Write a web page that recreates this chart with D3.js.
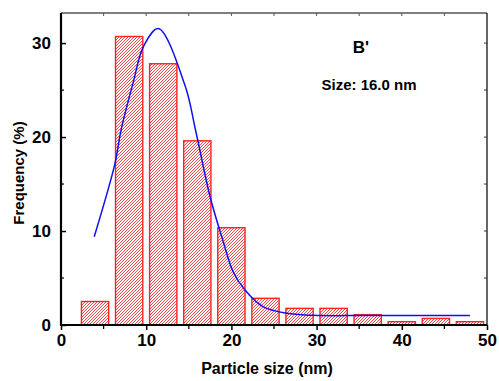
<!DOCTYPE html>
<html>
<head>
<meta charset="utf-8">
<script src="https://cdn.jsdelivr.net/npm/d3@7"></script>
<style>
  html, body { margin: 0; padding: 0; background: #fff; }
  svg { display: block; font-family: "Liberation Sans", Arial, sans-serif; }
</style>
</head>
<body>
<svg id="chart" width="499" height="381"></svg>
<script>
// ---- data ----
const binCenters = [4, 8, 12, 16, 20, 24, 28, 32, 36, 40, 44, 48];
const frequencies = [2.5, 30.7, 27.8, 19.6, 10.35, 2.84, 1.77, 1.77, 1.1, 0.35, 0.7, 0.35];
const fitX = [3.9, 6.34, 7.04, 8.5, 9.66, 11.42, 14.55, 15.8, 17.5, 19.0, 20.2, 21.6, 23.7, 26.5, 29.6, 35, 40, 48];
const fitY = [9.4, 17.2, 20.7, 25.9, 29.6, 31.55, 25.5, 20.7, 13.65, 9.0, 5.67, 3.72, 1.95, 1.24, 1.03, 1.0, 1.0, 1.0];
const xTicks = [0, 10, 20, 30, 40, 50];
const yTicks = [0, 10, 20, 30];
const xLabel = "Particle size (nm)";
const yLabel = "Frequency (%)";
const panelLabel = "B'";
const sizeLabel = "Size: 16.0 nm";
const binWidth = 3.2;

// ---- layout ----
const svg = d3.select("#chart");
const L = 61, R = 487, T = 13, B = 325;
const x = d3.scaleLinear().domain([0, 50]).range([L, R]);
const y = d3.scaleLinear().domain([0, 33.2]).range([B, T]);

// hatch pattern
const defs = svg.append("defs");
const pat = defs.append("pattern")
  .attr("id", "hatch").attr("patternUnits", "userSpaceOnUse")
  .attr("width", 3).attr("height", 3);
pat.append("rect").attr("width", 3).attr("height", 3).attr("fill", "#fff");
pat.append("path").attr("d", "M-1,1 l2,-2 M0,3 l3,-3 M2,4 l2,-2")
  .attr("stroke", "#f03030").attr("stroke-width", 0.9);

// bars
svg.append("g").selectAll("rect").data(binCenters).join("rect")
  .attr("x", (d) => x(d - binWidth / 2))
  .attr("width", (d) => x(d + binWidth / 2) - x(d - binWidth / 2))
  .attr("y", (d, i) => y(frequencies[i]))
  .attr("height", (d, i) => y(0) - y(frequencies[i]))
  .attr("fill", "url(#hatch)")
  .attr("stroke", "#ff2020").attr("stroke-width", 1.4);

// fit curve
const line = d3.line().x((d) => x(d[0])).y((d) => y(d[1])).curve(d3.curveCatmullRom.alpha(0.5));
svg.append("path").datum(fitX.map((v, i) => [v, fitY[i]]))
  .attr("d", line).attr("fill", "none").attr("stroke", "#1010f0").attr("stroke-width", 1.5);

// frame
svg.append("line").attr("x1", L).attr("x2", R).attr("y1", T).attr("y2", T).attr("stroke", "#000").attr("stroke-width", 1.2);
svg.append("line").attr("x1", R).attr("x2", R).attr("y1", T).attr("y2", B).attr("stroke", "#000").attr("stroke-width", 1.2);

// axes
const xAxis = d3.axisBottom(x).tickValues(xTicks).tickSize(5).tickPadding(4);
const gx = svg.append("g").attr("transform", `translate(0,${B})`).call(xAxis);
gx.select(".domain").attr("stroke-width", 2.2).attr("d", `M${L - 1},0H${R}`);
gx.selectAll(".tick line").attr("stroke-width", 1.5);
gx.selectAll("text").attr("font-size", 17).attr("font-weight", "bold").attr("font-family", "Liberation Sans, Arial, sans-serif").attr("fill", "#000");
// minor bottom ticks
svg.append("g").selectAll("line").data([5, 15, 25, 35, 45]).join("line")
  .attr("x1", (d) => x(d)).attr("x2", (d) => x(d)).attr("y1", B).attr("y2", B + 4)
  .attr("stroke", "#000").attr("stroke-width", 1.3);

const yAxis = d3.axisLeft(y).tickValues(yTicks).tickSize(-5).tickPadding(10);
const gy = svg.append("g").attr("transform", `translate(${L},0)`).call(yAxis);
gy.select(".domain").attr("stroke-width", 2.2).attr("d", `M0,${B + 1}V${T}`);
gy.selectAll(".tick line").attr("stroke-width", 1.5);
gy.selectAll("text").attr("font-size", 17).attr("font-weight", "bold").attr("font-family", "Liberation Sans, Arial, sans-serif").attr("fill", "#000");
// minor left ticks
svg.append("g").selectAll("line").data([5, 15, 25]).join("line")
  .attr("x1", L).attr("x2", L + 3).attr("y1", (d) => y(d)).attr("y2", (d) => y(d))
  .attr("stroke", "#000").attr("stroke-width", 1.2);

// top ticks (mirror)
svg.append("g").selectAll("line").data([5, 10, 15, 20, 25, 30, 35, 40, 45]).join("line")
  .attr("x1", (d) => x(d)).attr("x2", (d) => x(d)).attr("y1", T).attr("y2", T + 3)
  .attr("stroke", "#555").attr("stroke-width", 1);
// right ticks (mirror)
svg.append("g").selectAll("line").data([5, 10, 15, 20, 25, 30]).join("line")
  .attr("x1", R).attr("x2", R - 3).attr("y1", (d) => y(d)).attr("y2", (d) => y(d))
  .attr("stroke", "#333").attr("stroke-width", 1);

// titles
svg.append("text").attr("x", 267).attr("y", 374).attr("text-anchor", "middle")
  .attr("font-size", 16).attr("font-weight", "bold").text(xLabel);
svg.append("text").attr("transform", `translate(24,${(T + B) / 2 + 4}) rotate(-90)`).attr("text-anchor", "middle")
  .attr("font-size", 15).attr("font-weight", "bold").text(yLabel);

svg.append("text").attr("x", 361).attr("y", 53).attr("text-anchor", "middle")
  .attr("font-size", 17).attr("font-weight", "bold").text(panelLabel);
svg.append("text").attr("x", 369).attr("y", 90).attr("text-anchor", "middle")
  .attr("font-size", 15).attr("font-weight", "bold").text(sizeLabel);
</script>
</body>
</html>
